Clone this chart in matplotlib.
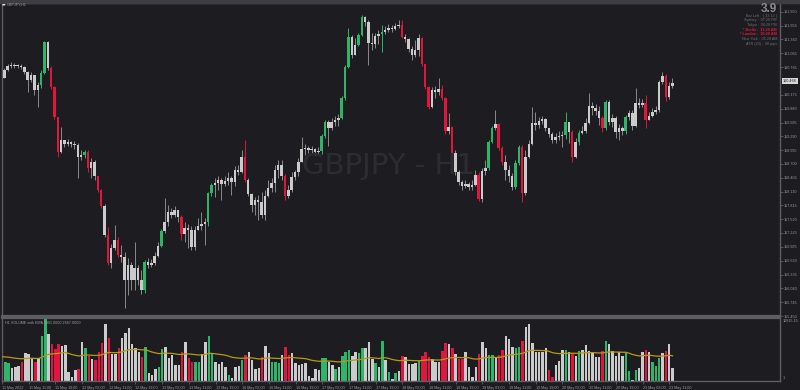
import matplotlib
matplotlib.use("Agg")
import matplotlib.pyplot as plt
import numpy as np
import pandas as pd

plt.rcParams["font.family"] = ["Liberation Sans", "DejaVu Sans"]

# GBPJPY H1, 11 May 03:00 .. 23 May 12:00
first_open = 160.43
close = [
    160.54, 160.71, 160.80, 160.82, 160.80, 160.80, 160.77, 160.67, 160.50, 160.60,
    160.28, 160.39, 160.65, 161.31, 160.75, 160.35, 159.71, 158.96, 159.21, 159.13,
    159.17, 159.13, 159.11, 158.85, 158.89, 158.96, 158.61, 158.74, 158.44, 158.15,
    157.80, 157.18, 156.58, 156.91, 157.08, 156.76, 156.71, 156.22, 156.54, 156.22,
    156.48, 156.22, 156.01, 156.61, 156.54, 156.58, 156.73, 156.95, 157.27, 157.46,
    157.68, 157.61, 157.72, 157.57, 157.21, 157.33, 157.29, 156.93, 157.29, 157.38,
    157.42, 157.46, 158.08, 158.25, 158.29, 158.36, 158.27, 158.34, 158.40, 158.32,
    158.57, 158.53, 158.85, 158.36, 158.06, 157.82, 157.93, 157.89, 157.61, 158.02,
    158.19, 158.29, 158.57, 158.68, 158.44, 158.02, 158.15, 158.42, 158.53, 158.74,
    159.02, 159.04, 159.00, 159.02, 158.96, 158.98, 159.30, 159.60, 159.47, 159.60,
    159.64, 159.68, 160.11, 160.77, 161.42, 161.03, 161.25, 161.46, 161.84, 161.74,
    161.29, 161.27, 161.44, 161.48, 161.52, 161.57, 161.61, 161.59, 161.65, 161.67,
    161.42, 161.37, 161.16, 161.03, 161.14, 161.40, 160.84, 160.35, 159.92, 160.28,
    160.24, 160.30, 160.11, 159.41, 159.49, 158.94, 158.53, 158.32, 158.23, 158.27,
    158.21, 158.25, 158.47, 157.95, 158.55, 158.62, 159.17, 159.47, 159.56, 159.04,
    158.74, 158.57, 158.44, 158.21, 158.72, 159.06, 158.08, 158.85, 159.13, 159.58,
    159.53, 159.62, 159.66, 159.47, 159.34, 159.21, 159.28, 159.30, 159.32, 159.60,
    159.38, 158.85, 159.17, 159.36, 159.41, 159.58, 159.94, 159.90, 159.83, 159.68,
    159.47, 160.03, 159.60, 159.68, 159.38, 159.47, 159.41, 159.71, 159.79, 159.51,
    160.00, 159.96, 160.00, 159.64, 159.73, 159.81, 159.86, 160.45, 160.58, 160.13,
    160.37, 160.43]
high = [
    160.58, 160.75, 160.84, 160.88, 160.86, 160.84, 160.84, 160.80, 160.69, 160.67,
    160.58, 160.45, 160.71, 161.33, 161.33, 160.80, 160.37, 159.71, 159.49, 159.21,
    159.24, 159.19, 159.19, 159.15, 159.00, 159.00, 159.00, 158.83, 158.79, 158.44,
    158.17, 157.85, 157.35, 156.99, 157.40, 157.14, 156.97, 156.82, 156.69, 156.61,
    157.03, 156.54, 156.44, 156.65, 156.69, 156.67, 156.82, 157.03, 157.31, 157.97,
    157.82, 157.76, 157.80, 157.68, 157.61, 157.46, 157.42, 157.38, 157.38, 157.55,
    157.68, 157.55, 158.10, 158.29, 158.40, 158.44, 158.40, 158.44, 158.53, 158.44,
    158.66, 158.68, 159.00, 159.21, 158.40, 158.08, 157.99, 158.04, 158.10, 158.15,
    158.36, 158.40, 158.68, 158.79, 158.79, 158.49, 158.25, 158.53, 158.57, 158.83,
    159.28, 159.13, 159.09, 159.09, 159.04, 159.06, 159.34, 159.64, 159.64, 159.68,
    159.73, 159.77, 160.15, 160.82, 161.61, 161.46, 161.40, 161.50, 161.89, 161.87,
    161.78, 161.50, 161.50, 161.57, 161.67, 161.65, 161.69, 161.67, 161.72, 161.78,
    161.78, 161.48, 161.40, 161.22, 161.35, 161.48, 161.42, 160.84, 160.37, 160.35,
    160.37, 160.54, 160.39, 160.13, 159.79, 159.51, 159.00, 158.57, 158.36, 158.36,
    158.32, 158.36, 158.57, 158.53, 158.62, 158.79, 159.21, 159.51, 159.86, 159.58,
    159.09, 158.89, 158.68, 158.51, 158.79, 159.11, 159.11, 159.00, 159.21, 159.92,
    159.81, 159.71, 159.73, 159.68, 159.47, 159.38, 159.36, 159.41, 159.41, 159.81,
    159.60, 159.43, 159.26, 159.43, 159.51, 159.68, 160.22, 160.03, 159.98, 159.94,
    159.73, 160.07, 160.07, 159.77, 159.73, 159.56, 159.51, 159.75, 159.86, 159.86,
    160.32, 160.11, 160.09, 160.18, 159.81, 159.90, 159.94, 160.50, 160.67, 160.62,
    160.45, 160.54]
low = [
    160.39, 160.54, 160.69, 160.75, 160.75, 160.75, 160.73, 160.62, 160.24, 160.45,
    160.18, 159.92, 160.32, 160.62, 160.71, 160.30, 159.66, 158.85, 158.94, 159.06,
    159.09, 159.06, 159.02, 158.40, 158.79, 158.83, 158.53, 158.40, 158.36, 158.10,
    157.76, 157.14, 156.54, 156.48, 156.86, 156.71, 156.61, 155.62, 155.90, 156.01,
    156.01, 156.11, 155.92, 155.94, 156.48, 156.50, 156.54, 156.71, 156.93, 157.22,
    157.38, 157.55, 157.57, 157.46, 157.08, 157.03, 156.91, 156.86, 156.86, 157.29,
    157.29, 156.97, 157.38, 158.02, 157.99, 158.15, 157.93, 158.23, 158.25, 158.04,
    158.23, 158.47, 158.50, 158.32, 158.02, 157.67, 157.61, 157.50, 157.55, 157.50,
    157.99, 158.10, 158.10, 158.40, 158.36, 157.93, 157.97, 158.10, 158.36, 158.44,
    158.74, 158.89, 158.94, 158.94, 158.89, 158.91, 158.91, 159.26, 159.09, 159.43,
    159.51, 159.51, 159.66, 160.07, 160.75, 160.97, 161.03, 161.22, 161.44, 161.65,
    160.82, 161.14, 161.18, 161.27, 161.10, 161.48, 161.52, 161.52, 161.57, 161.61,
    161.40, 161.31, 161.10, 160.92, 160.99, 161.01, 160.80, 160.30, 159.88, 159.90,
    160.11, 160.18, 160.07, 159.34, 159.34, 158.89, 158.47, 158.25, 158.15, 158.19,
    158.15, 158.15, 158.23, 157.91, 157.89, 158.47, 158.57, 159.15, 159.43, 159.00,
    158.68, 158.36, 158.32, 158.15, 158.17, 158.68, 157.89, 158.04, 158.83, 159.11,
    159.43, 159.47, 159.56, 159.41, 159.28, 159.15, 159.15, 159.21, 159.06, 159.23,
    159.15, 158.74, 158.83, 159.11, 159.34, 159.36, 159.56, 159.75, 159.75, 159.53,
    159.38, 159.43, 159.53, 159.49, 159.26, 159.21, 159.32, 159.34, 159.64, 159.43,
    159.49, 159.90, 159.92, 159.47, 159.64, 159.70, 159.77, 159.81, 160.41, 160.05,
    160.09, 160.32]
volume = [
    5060, 4020, 3670, 2630, 2980, 3120, 3880, 5750, 5540, 4850,
    4020, 4710, 9420, 12900, 9770, 7620, 6580, 7620, 7280, 7480,
    1800, 900, 2290, 2430, 8040, 6790, 5270, 4570, 4370, 5960,
    7830, 11780, 9010, 5540, 5540, 6790, 8870, 10050, 10950, 7620,
    6930, 6100, 4920, 7000, 1590, 1250, 2490, 2980, 6580, 7140,
    4710, 5410, 3330, 3330, 6100, 8180, 4850, 4020, 4020, 4020,
    5540, 8180, 9420, 5750, 4020, 3530, 4020, 2980, 1250, 550,
    2980, 3120, 4370, 5410, 5960, 4370, 2490, 2630, 5060, 7350,
    5890, 4020, 3880, 3670, 5410, 7000, 5410, 5750, 3810, 3330,
    3470, 3670, 1040, 550, 2430, 2290, 4710, 4710, 3880, 3330,
    2430, 2840, 5200, 6100, 6440, 5200, 5960, 5750, 6790, 6930,
    8040, 4570, 3670, 2840, 8320, 4370, 1940, 420, 1730, 2080,
    5270, 5060, 3470, 3470, 3810, 4160, 5270, 6100, 5060, 4500,
    3880, 4020, 6240, 7970, 7620, 6790, 5540, 4570, 4570, 5960,
    2980, 900, 2980, 5540, 8180, 6790, 5410, 5410, 4710, 5410,
    6440, 9420, 8660, 7140, 6790, 7140, 8320, 11300, 11780, 7970,
    5960, 5960, 5960, 6790, 2290, 900, 3330, 4230, 6440, 6440,
    6100, 5750, 5270, 6240, 6440, 7480, 6240, 5750, 5060, 5060,
    6240, 8320, 7620, 6240, 5270, 5960, 5270, 5750, 2080, 210,
    2290, 2630, 5960, 6440, 6100, 4020, 3120, 4850, 5750, 6310,
    7690, 2667]

candle_green = [12, 13, 25, 43, 48, 62, 63, 96, 97, 102, 103, 104, 107, 108, 114,
                146, 147, 154, 155, 169, 173, 181, 187]
candle_red = [15, 16, 17, 26, 29, 30, 32, 35, 54, 73, 85, 120, 126, 127, 128, 132,
              133, 135, 143, 149, 150, 156, 171, 180, 193, 199]
vol_green = [1, 2, 12, 13, 25, 43, 47, 48, 58, 59, 62, 63, 68, 72, 81, 82, 83, 96, 97,
             100, 102, 103, 104, 107, 108, 112, 114, 116, 118, 125, 146, 147, 154, 155,
             169, 173, 181, 187, 188, 190, 195, 196, 197]
vol_red = [6, 10, 15, 16, 17, 23, 26, 28, 29, 30, 32, 35, 42, 54, 56, 57, 73, 78, 85, 86,
           120, 126, 127, 128, 132, 133, 135, 137, 138, 143, 149, 150, 156, 164, 165,
           171, 180, 193, 199]

price_ticks = [161.950, 161.655, 161.360, 161.065, 160.765, 160.175, 159.880, 159.585,
               159.290, 158.995, 158.700, 158.405, 158.110, 157.815, 157.520, 157.225,
               156.925, 156.630, 156.335, 156.040, 155.745, 155.450]
last_price = 160.468
time_labels = ["11 May 2022", "11 May 11:00", "11 May 19:00", "12 May 03:00",
               "12 May 11:00", "12 May 19:00", "13 May 03:00", "13 May 11:00",
               "13 May 19:00", "16 May 03:00", "16 May 11:00", "16 May 19:00",
               "17 May 03:00", "17 May 11:00", "17 May 19:00", "18 May 03:00",
               "18 May 11:00", "18 May 19:00", "19 May 03:00", "19 May 11:00",
               "19 May 19:00", "20 May 03:00", "20 May 11:00", "20 May 19:00",
               "23 May 03:00", "23 May 11:00"]
info_lines = ["Bar Left :  [ 33:13 ]", "Sydney :  07:28 PM", "Tokyo :  06:28 PM",
              "* Berlin :  11:28 AM", "* London :  10:28 AM", "New York :  05:28 AM",
              "ATR (20) :  90 pips"]
info_red = [3, 4]

BG = "#1c1c21"
GREY = "#cbcbcb"
GREEN = "#2eb56a"
RED = "#e0163e"
FRAME = "#5e5e64"
TXT = "#9a9a9e"
FS = 2.7

n = len(close)
idx = np.arange(n)
c = np.array(close)
o = np.r_[first_open, c[:-1]]
body_col = [GREY] * n
wick_col = ["#8a8a8a"] * n
for i in candle_green:
    body_col[i] = GREEN
    wick_col[i] = GREEN
for i in candle_red:
    body_col[i] = RED
    wick_col[i] = RED
vcol = [GREY] * n
for i in vol_green:
    vcol[i] = GREEN
for i in vol_red:
    vcol[i] = RED

fig = plt.figure(figsize=(8, 3.9), dpi=100)
fig.patch.set_facecolor(BG)
W, H = 800.0, 390.0

ax = fig.add_axes([2 / W, 1 - 316 / H, 778 / W, 313 / H])
axv = fig.add_axes([2 / W, 1 - 381 / H, 778 / W, 63 / H])
for a in (ax, axv):
    a.set_facecolor(BG)
    for s in a.spines.values():
        s.set_color(FRAME)
        s.set_linewidth(1.0)
    a.set_xlim(0.3, 233.2)
ax.spines["bottom"].set_linewidth(1.6)
axv.spines["top"].set_linewidth(1.6)

# top strip
fig.patches.append(plt.Rectangle((0, 1 - 2.5 / H), 1, 2.5 / H, transform=fig.transFigure,
                                 color="#3d3d43", zorder=0))

# watermark
fig.text(389 / W, 1 - 166 / H, "GBPJPY - H1", color="#2c2c32", fontsize=21,
         family="DejaVu Sans", ha="center", va="center", zorder=0.5)

# candles
bottom = np.minimum(o, c)
height = np.maximum(np.abs(c - o), 0.012)
ax.vlines(idx, low, high, colors=wick_col, linewidth=0.7, zorder=2)
ax.bar(idx, height, bottom=bottom, width=0.74, color=body_col, linewidth=0, zorder=3)
ax.set_ylim(155.45, 162.14)

ax.yaxis.tick_right()
ax.set_yticks(price_ticks)
ax.set_yticklabels(["%.3f" % t for t in price_ticks])
ax.tick_params(axis="y", colors=FRAME, labelsize=FS, length=2, width=0.6, pad=0.8,
               labelcolor=TXT)
ax.set_xticks([])
ax.annotate("%.3f" % last_price, xy=(1.0, last_price), xycoords=("axes fraction", "data"),
            xytext=(2.2, 0), textcoords="offset points", fontsize=FS, color="#1c1c21",
            va="center", ha="left",
            bbox=dict(boxstyle="square,pad=0.2", fc="#d8d8d8", ec="none"))

# volume
ema = pd.Series(volume, dtype=float).ewm(span=40, adjust=False).mean()
axv.bar(idx, volume, width=0.74, color=vcol, linewidth=0, zorder=2)
axv.plot(idx, ema, color="#b89a10", linewidth=0.9, zorder=3)
axv.set_ylim(0, 13100)
axv.set_yticks([])
axv.set_xticks(idx[::8][:len(time_labels)])
axv.set_xticklabels(time_labels)
axv.tick_params(axis="x", colors=FRAME, labelcolor=TXT, labelsize=FS, length=2.5,
                width=0.6, pad=0.8)
for lb in axv.get_xticklabels():
    lb.set_ha("left")
axv.text(0.004, 0.95, "H1 VOLUME with EMA 4991.0000 2667.0000", transform=axv.transAxes,
         fontsize=FS, color=TXT, va="top", ha="left", zorder=5)
fig.text(783 / W, 1 - 321 / H, "12915.15", fontsize=FS, color=TXT, va="center")
fig.text(783 / W, 1 - 378 / H, "1", fontsize=FS, color=TXT, va="center")

# header texts
fig.text(1.5 / W, 1 - 5 / H, "\u25ac", fontsize=FS, color="#e0e0e0", va="center",
         family="DejaVu Sans")
fig.text(7 / W, 1 - 5 / H, "GBPJPY,H1", fontsize=FS, color=TXT, va="center")
fig.text(777 / W, 1 - 9 / H, "3.9", fontsize=8.5, color="#8c8c90", fontweight="bold",
         ha="right", va="center")
for k, line in enumerate(info_lines):
    col = RED if k in info_red else "#6e6e74"
    fig.text(777 / W, 1 - (15.5 + 4.7 * k) / H, line, fontsize=FS, color=col,
             ha="right", va="center", fontweight="bold" if k in info_red else "normal")

fig.savefig("out.png", dpi=100, facecolor=BG)
